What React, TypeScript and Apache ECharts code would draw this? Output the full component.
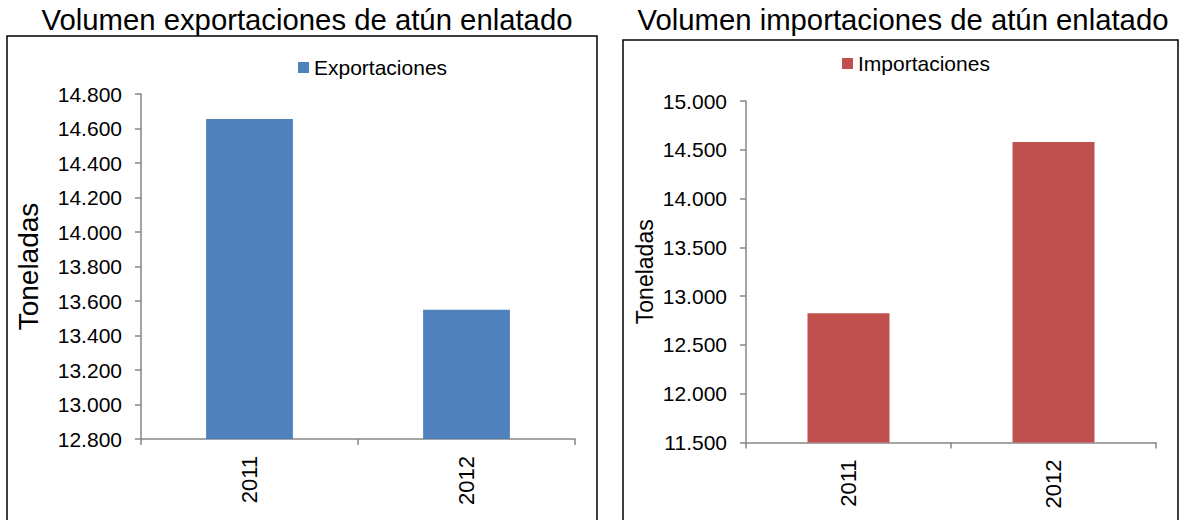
import React, { useEffect, useRef } from "react";
import * as echarts from "echarts";

const years = ["2011", "2012"];
const exportaciones = [14655, 13550];
const importaciones = [12825, 14580];
const expTicks = { min: 12800, max: 14800, interval: 200 };
const impTicks = { min: 11500, max: 15000, interval: 500 };
const titleExp = "Volumen exportaciones de atún enlatado";
const titleImp = "Volumen importaciones de atún enlatado";
const yName = "Toneladas";

const FONT = "'Liberation Sans', Arial, sans-serif";
const AXIS_GRAY = "#868686";

const fmt = (v: number) => String(v).replace(/\B(?=(\d{3})+(?!\d))/g, ".");

export default function App() {
  const ref = useRef<HTMLDivElement>(null);
  useEffect(() => {
    if (!ref.current) return;
    const chart = echarts.init(ref.current, undefined, { renderer: "svg" });
    const axisLine = { show: true, lineStyle: { color: AXIS_GRAY, width: 1.5 } };
    const axisTick = { show: true, length: 6, lineStyle: { color: AXIS_GRAY, width: 1.5 } };
    const yLabel = { color: "#000", fontSize: 21, fontFamily: FONT, margin: 19, formatter: fmt };
    const xLabel = { color: "#000", fontSize: 22, fontFamily: FONT, rotate: 90, margin: 17 };
    const titleStyle = { fontSize: 29.3, fontWeight: "normal", color: "#000", fontFamily: FONT };
    chart.setOption({
      animation: false,
      backgroundColor: "#fff",
      textStyle: { fontFamily: FONT },
      title: [
        { text: titleExp, left: 302, top: 0, textAlign: "center", textStyle: titleStyle },
        { text: titleImp, left: 898, top: 0, textAlign: "center", textStyle: titleStyle },
      ],
      legend: [
        { data: ["Exportaciones"], left: 293, top: 52, icon: "rect", itemWidth: 11, itemHeight: 11, textStyle: { fontSize: 21, color: "#000", fontFamily: FONT } },
        { data: ["Importaciones"], left: 837, top: 48, icon: "rect", itemWidth: 11, itemHeight: 11, textStyle: { fontSize: 21, color: "#000", fontFamily: FONT } },
      ],
      grid: [
        { left: 141, top: 94, right: 607, bottom: 81 },
        { left: 746, top: 101, right: 26, bottom: 77.5 },
      ],
      xAxis: [
        { type: "category", gridIndex: 0, data: years, axisLine, axisTick, axisLabel: xLabel },
        { type: "category", gridIndex: 1, data: years, axisLine, axisTick, axisLabel: xLabel },
      ],
      yAxis: [
        {
          type: "value", gridIndex: 0, ...expTicks, axisLine, axisTick, axisLabel: yLabel, splitLine: { show: false },
          name: yName, nameLocation: "middle", nameRotate: 90, nameGap: 99,
          nameTextStyle: { fontSize: 28, color: "#000", fontFamily: FONT },
        },
        {
          type: "value", gridIndex: 1, ...impTicks, axisLine, axisTick, axisLabel: yLabel, splitLine: { show: false },
          name: yName, nameLocation: "middle", nameRotate: 90, nameGap: 90,
          nameTextStyle: { fontSize: 23, color: "#000", fontFamily: FONT },
        },
      ],
      series: [
        { name: "Exportaciones", type: "bar", xAxisIndex: 0, yAxisIndex: 0, data: exportaciones, barWidth: "40%", itemStyle: { color: "#4F81BD" } },
        { name: "Importaciones", type: "bar", xAxisIndex: 1, yAxisIndex: 1, data: importaciones, barWidth: "40%", itemStyle: { color: "#C0504D" } },
      ],
      graphic: [
        { type: "rect", shape: { x: 7, y: 36, width: 590, height: 520 }, style: { fill: "none", stroke: "#000", lineWidth: 1.5 }, z: 10 },
        { type: "rect", shape: { x: 623, y: 40, width: 555, height: 520 }, style: { fill: "none", stroke: "#000", lineWidth: 1.5 }, z: 10 },
      ],
    });
    return () => chart.dispose();
  }, []);
  return <div ref={ref} style={{ position: "fixed", left: 0, top: 0, width: 1182, height: 520 }} />;
}
